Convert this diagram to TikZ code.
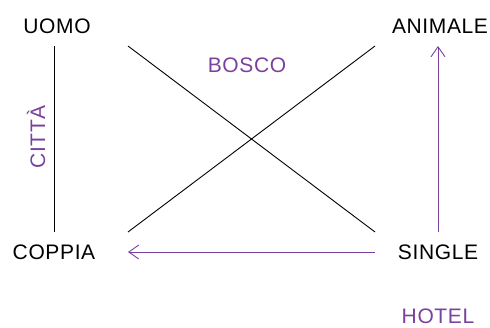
\documentclass[tikz,border=0pt]{standalone}
\usepackage{fontspec}
\setmainfont{Liberation Sans}[LetterSpace=3]
\usetikzlibrary{arrows.meta,positioning}
\definecolor{viola}{RGB}{122,66,158}

\begin{document}
\begin{tikzpicture}[x=1pt,y=-1pt, >={Straight Barb[length=10pt,width=14pt]},
   word/.style={font=\fontsize{21}{25}\selectfont, inner sep=0pt},
   tag/.style={word, text=viola},
   link/.style={draw=black, line width=0.9pt},
   move/.style={draw=viola, line width=0.9pt, ->}]
   \useasboundingbox (0,0) rectangle (490,327);
   \node[word] (uomo)    at (57,26)  {UOMO};
   \node[word] (animale) at (440,26) {ANIMALE};
   \node[word] (coppia)  at (54,252) {COPPIA};
   \node[word] (single)  at (438,252) {SINGLE};
   \coordinate (u_a) at (54,46);   \coordinate (c_a) at (54,232);
   \coordinate (q_0) at (128,46);  \coordinate (q_1) at (375,46);
   \coordinate (q_2) at (128,232); \coordinate (q_3) at (375,232);
   \coordinate (a_b) at (438,46);  \coordinate (s_a) at (438,232);
   \coordinate (c_r) at (128,252); \coordinate (s_l) at (375,252);
   \path[link] (u_a) -- (c_a);
   \path[link] (q_0) -- (q_3);
   \path[link] (q_1) -- (q_2);
   \path[move] (s_a) -- (a_b);
   \path[move] (s_l) -- (c_r);
   \node[tag] (bosco) at (247,65) {BOSCO};
   \node[tag, rotate=90] (citta) at (36,137) {CITTÀ};
   \node[tag] (hotel) at (438,316.5) {HOTEL};
\end{tikzpicture}
\end{document}
